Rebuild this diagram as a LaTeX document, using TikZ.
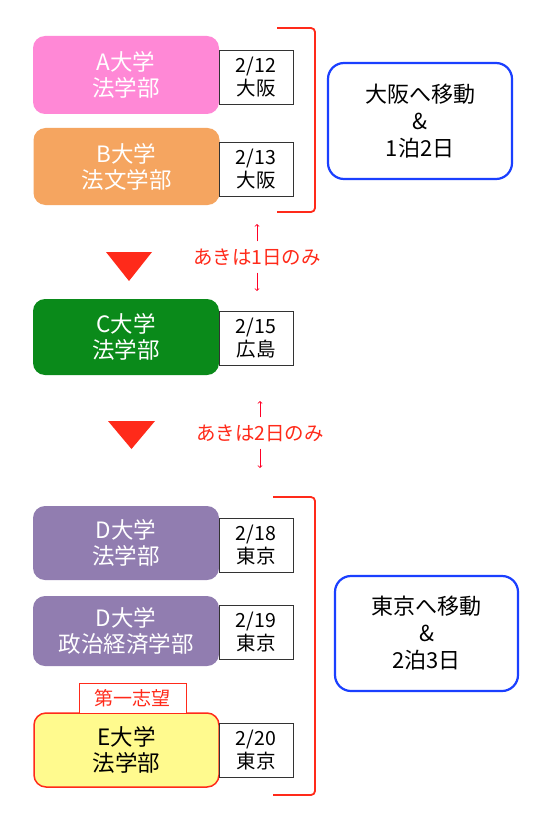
\documentclass[tikz,border=0pt]{standalone}
\usepackage{fontspec}
\setmainfont{Noto Sans CJK JP}
\definecolor{unipink}{HTML}{FF88D6}
\definecolor{uniorange}{HTML}{F5A560}
\definecolor{unigreen}{HTML}{0A8A1A}
\definecolor{unipurple}{HTML}{917DB0}
\definecolor{uniyellow}{HTML}{FFFA8E}
\definecolor{markred}{HTML}{FF2A1A}
\definecolor{moveblue}{HTML}{1A3FFF}
\tikzset{
  uni/.style={rounded corners=12pt, minimum width=186pt, align=center, inner sep=0pt,
    font=\fontsize{22.5}{26}\selectfont, text=white},
  datebox/.style={draw=black!80, fill=white, minimum width=74pt, minimum height=54pt,
    align=center, inner sep=0pt, font=\fontsize{19.5}{23}\selectfont},
  movebox/.style={draw=moveblue, line width=2.2pt, rounded corners=16pt, align=center,
    inner sep=0pt, font=\fontsize{22}{27}\selectfont},
  gapnote/.style={text=markred, font=\fontsize{19.5}{22}\selectfont, inner xsep=0pt, inner ysep=7pt},
  gaparrow/.style={->, >=to, red!85!magenta, line width=0.8pt},
}
\begin{document}
\begin{tikzpicture}[x=1pt,y=-1pt]
\useasboundingbox[fill=white] (0,0) rectangle (547,821);

% universities
\node[uni, fill=unipink, minimum height=78pt] (a) at (126,75) {A大学\\法学部};
\node[uni, fill=uniorange, minimum height=77pt] (b) at (126.5,166.5) {B大学\\法文学部};
\node[uni, fill=unigreen, minimum height=76pt] (c) at (126,337) {C大学\\法学部};
\node[uni, fill=unipurple, minimum height=74pt] (d1) at (126,543) {D大学\\法学部};
\node[uni, fill=unipurple, minimum height=70pt] (d2) at (126,631) {D大学\\政治経済学部};
\node[uni, fill=uniyellow, draw=markred, line width=1.5pt, text=black,
  minimum width=185pt, minimum height=74pt] (e) at (126.5,750) {E大学\\法学部};
\node[draw=markred, fill=white, text=markred, minimum width=107pt, minimum height=30pt,
  inner sep=0pt, font=\fontsize{19}{22}\selectfont] (first) at (132.5,698) {第一志望};

% dates
\node[datebox] (da) at (256,77.5) {2/12\\大阪};
\node[datebox] (db) at (256,169) {2/13\\大阪};
\node[datebox] (dc) at (256,338) {2/15\\広島};
\node[datebox] (dd1) at (256,545) {2/18\\東京};
\node[datebox] (dd2) at (256,632.5) {2/19\\東京};
\node[datebox] (de) at (256,750) {2/20\\東京};

% brackets and moves
\draw[markred, line width=1.8pt, rounded corners=4pt] (277,28) -- (315,28) -- (315,212) -- (277,212);
\draw[markred, line width=1.8pt, rounded corners=4pt] (273,497) -- (315,497) -- (315,795) -- (273,795);
\node[movebox, minimum width=184pt, minimum height=116pt] (osaka) at (420,121) {大阪へ移動\\\&\\1泊2日};
\node[movebox, minimum width=183pt, minimum height=115pt] (tokyo) at (426.5,633.5) {東京へ移動\\\&\\2泊3日};

% gaps
\fill[markred] (106,252) -- (152,252) -- (129,281) -- cycle;
\fill[markred] (108,421) -- (155,421) -- (131.5,449) -- cycle;
\node[gapnote] (gap1) at (257,257) {あきは1日のみ};
\node[gapnote] (gap2) at (260,433) {あきは2日のみ};
\coordinate (g1top) at (257,224);
\coordinate (g1bot) at (257,291);
\coordinate (g2top) at (260,401);
\coordinate (g2bot) at (260,468);
\draw[gaparrow] (gap1.north) -- (g1top);
\draw[gaparrow] (gap1.south) -- (g1bot);
\draw[gaparrow] (gap2.north) -- (g2top);
\draw[gaparrow] (gap2.south) -- (g2bot);
\end{tikzpicture}
\end{document}
